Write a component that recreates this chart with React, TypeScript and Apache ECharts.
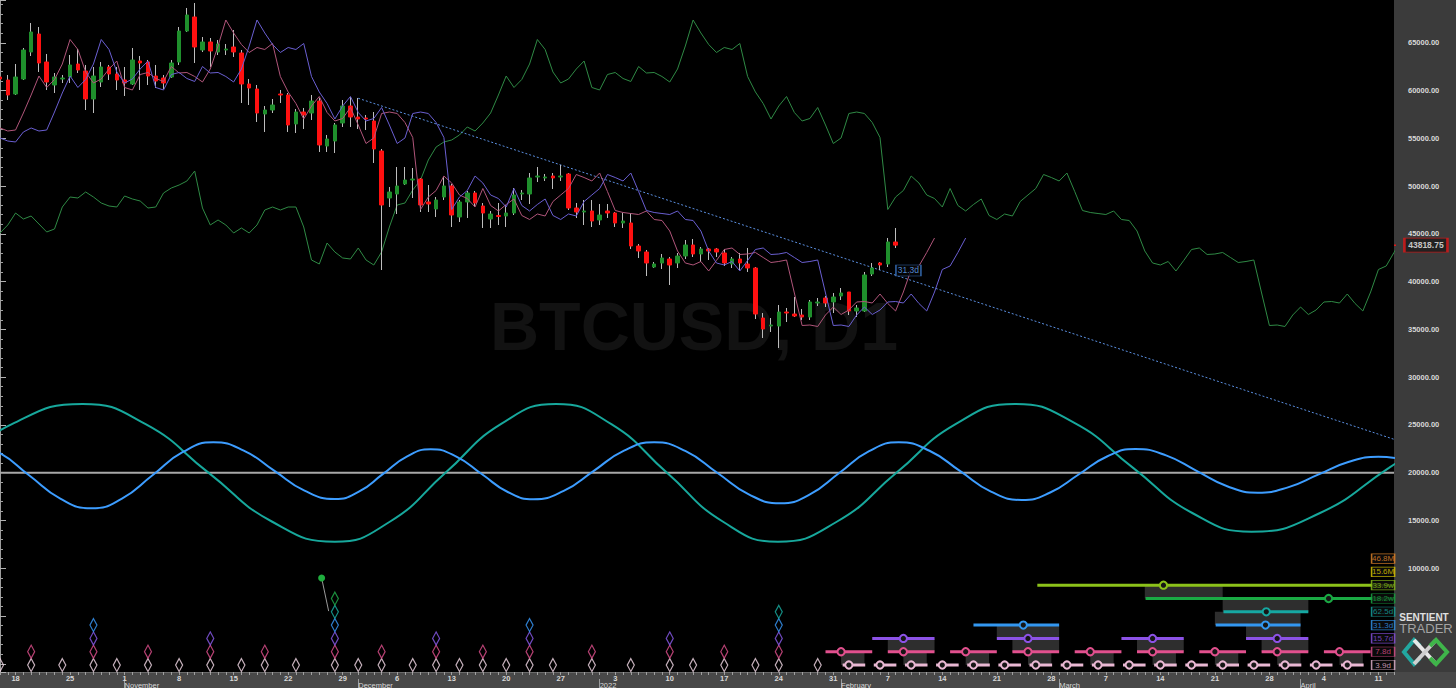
import React, { useEffect, useRef } from "react";
import * as echarts from "echarts";

// ---------- calendar / tick labels ----------
const START_YEAR = 2021;
const START_MONTH = 9; // October (0-based)
const START_DAY = 16;
const DAY_COUNT = 180;
const MONTH_NAMES = ["2022", "February", "March", "April", "May", "June", "July", "August", "September", "October", "November", "December"];
const Y_LABEL_MIN = 10000;
const Y_LABEL_MAX = 65000;
const Y_MIN = -861;
const Y_MAX = 69477;

// ---------- daily candles (index 0 = 16 Oct 2021) ----------
const OPEN = [
  61417, 61103, 59638, 61208, 64035, 65918, 62988, 60580, 61208, 61417,
  62778, 62045, 59115, 60894, 62464, 61731, 61103, 60684, 63092, 62988,
  61522, 61312, 61417, 62988, 66232, 67698, 64244, 65081, 64035, 64244,
  64557, 63930, 60684, 60161, 57544, 57963, 59638, 59534, 56498, 57754,
  57649, 58905, 54195, 54718, 56603, 58382, 57230, 57126, 56812, 53672,
  48752, 49171, 50218, 50636, 50741, 48334, 47601, 48857, 50009, 46764,
  48334, 49276, 47915, 46555, 46920, 46868, 47182, 49171, 49171, 50950,
  50846, 51055, 50950, 51264, 47706, 47287, 47392, 46450, 47392, 47182,
  46136, 46136, 43728, 43101, 41530, 41949, 42368, 41949, 42682, 43833,
  42891, 43415, 43415, 42996, 41844, 42368, 41844, 41425, 36192, 35354,
  35354, 36820, 36610, 36506, 36296, 37762, 38285, 37867, 38495, 38913,
  36925, 36925, 40798, 41949, 41844, 44147,
];
const HIGH = [
  62464, 61627, 62778, 64453, 67070, 66651, 63825, 61836, 61627, 63721,
  64348, 62674, 62464, 62988, 62674, 62464, 62464, 64453, 63616, 63197,
  62674, 61627, 63197, 66651, 68640, 69163, 65604, 65499, 65290, 64871,
  66337, 64244, 61208, 60580, 58382, 59115, 60057, 59743, 58068, 58173,
  59534, 59220, 55347, 56603, 59010, 59324, 59220, 57440, 57754, 53882,
  49904, 51997, 51997, 51892, 50846, 50113, 48857, 50950, 50218, 48543,
  49485, 49485, 48229, 47392, 48229, 48020, 49799, 49590, 51369, 51997,
  51264, 51369, 52206, 51369, 48229, 48543, 48543, 48124, 48124, 47287,
  47182, 47182, 43938, 43310, 42054, 42891, 42577, 42996, 44356, 44461,
  43624, 43519, 43519, 43415, 42577, 42996, 43519, 41530, 36715, 36192,
  37553, 37239, 38390, 37134, 38076, 38285, 38495, 38809, 39332, 38913,
  37553, 41007, 41949, 42054, 44566, 45613,
];
const LOW = [
  60580, 59010, 59534, 61103, 63616, 61941, 60057, 59743, 60789, 60789,
  61836, 57963, 57649, 60370, 61103, 60057, 59429, 60580, 60057, 60580,
  60266, 60161, 61312, 62674, 66128, 62883, 64035, 62464, 63721, 63721,
  63511, 58696, 58487, 56708, 55661, 57649, 58696, 55661, 55556, 55975,
  56917, 53568, 53568, 53463, 56184, 56184, 55975, 55870, 52416, 41216,
  47810, 47077, 50113, 48752, 47287, 47287, 46764, 48543, 45717, 46241,
  46659, 47810, 45613, 45613, 45926, 45717, 46973, 48543, 48124, 50427,
  50532, 49695, 50532, 47496, 46659, 45926, 45717, 45926, 46659, 45717,
  45613, 43415, 42472, 40588, 41425, 41321, 39646, 41425, 42368, 42577,
  42054, 42263, 42577, 41635, 41425, 41216, 41007, 36087, 34099, 34726,
  33052, 35773, 36296, 35983, 35983, 37448, 37343, 36715, 38076, 36506,
  36296, 36820, 40588, 41216, 41530, 43519,
];
const CLOSE = [
  61208, 59534, 61417, 64244, 66128, 62883, 60894, 61417, 61312, 62674,
  62150, 59115, 61522, 62464, 61731, 61103, 60789, 63197, 62883, 61522,
  60998, 60789, 62883, 66232, 67907, 64557, 65081, 64139, 64871, 64348,
  64035, 60684, 60266, 57649, 57963, 58487, 59534, 56394, 57754, 57440,
  58905, 54300, 54928, 56394, 58382, 57230, 57021, 57021, 53882, 48020,
  49381, 50009, 50636, 50741, 48020, 48124, 48543, 50009, 46973, 48334,
  49276, 48229, 47182, 47077, 46815, 47182, 49067, 49276, 50846, 51055,
  50950, 50846, 51055, 47706, 47287, 47392, 46345, 46973, 47182, 46136,
  46345, 43728, 43205, 41949, 41844, 42472, 41739, 42682, 43833, 42891,
  43415, 43205, 43101, 41949, 42368, 41949, 41425, 36610, 35041, 35459,
  36820, 36715, 36401, 36296, 37867, 37867, 37762, 38390, 38809, 36925,
  37239, 40693, 41425, 41739, 44147, 43818.75,
];
const LAST_PRICE = 43818.75;

// ---------- displaced lines (FLDs) ----------
const FLD_VALUES = [
  61522, 60319, 61156, 62778, 65343, 64296, 61941, 60790, 61208, 62255,
  63092, 60319, 60057, 61679, 61889, 61261, 60947, 62517, 61837, 61889,
  61470, 60894, 62255, 64663, 67384, 66023, 64820, 63982, 64506, 64296,
  64924, 61470, 59848, 58644, 57022, 58382, 59377, 57702, 56812, 57074,
  58226, 56394, 54458, 55033, 57597, 57754, 57598, 56655, 55085, 47549,
  48857, 49537, 51055, 50322, 49067, 48700, 47811, 49747, 47968, 47392,
  48072, 48648, 46921, 46503, 47078, 46869, 48386, 49067, 49747, 51212,
  50898, 50532, 51369, 49433, 47444, 47235, 47130, 47025, 47392, 46502,
  46398, 45299, 43205, 41949, 41740, 42106, 41112, 42211, 43362, 43519,
  42839, 42891, 43048, 42525, 42001, 42106, 42263, 38809, 35407, 35459,
  35303, 36506, 37343, 36559, 37030, 37867, 37919, 37762, 38704, 37710,
  36925, 38914, 41269, 41635, 43048, 44566,
];
const PINK_LEAD = [56080, 55765, 55870, 57649, 59534];
const PURPLE_LEAD = [55033, 54718, 54614, 55661, 56080, 55765, 55870, 57754, 59743];
const GREEN_LEAD = [
  45089, 45927, 47182, 46554, 46868, 46031, 45194, 45508, 47810, 48857,
  48752, 49381, 48857, 48229, 47915, 47810, 48962, 48648, 48438, 47706,
  47810, 49276, 49799, 50113, 50531, 51578, 47706, 45927, 46450, 45927,
  45089, 45613, 45089, 45927, 47496, 47810, 47496, 47810, 47810, 45717,
  42263, 41844, 44042, 43101, 42473, 42368, 43519, 42263, 41739, 43101,
  45717, 48020, 48229, 49590, 50636, 52730, 54090, 54614, 54823, 55347,
  56184, 55765, 56603, 57649, 59534,
];

// ---------- trend line ----------
const TREND_DAYS = [46, 179];
const TREND_VALUES = [59190, 23497];

// ---------- cycle waves ----------
const WAVE_CENTER = 20000;
const TEAL_DAYS = [-25.7, -16.6, -7.55, 1.53, 10.6, 18.7, 26.8, 34.9, 43.0, 50.1, 57.2, 64.3, 71.4, 78.5, 85.65, 92.8, 99.9, 107.5, 115.1, 122.7, 130.3, 137.9, 145.5, 153.1, 160.7, 169.5, 178.35, 187.2];
const TEAL_VALUES = [12778, 14892, 19984, 25076, 27191, 25076, 19984, 14892, 12778, 14892, 19984, 25076, 27191, 25076, 19984, 14892, 12778, 14892, 19984, 25076, 27191, 25234, 20508, 15782, 13825, 15782, 20508, 25234];
const BLUE_DAYS = [-4.3, -0.29, 3.73, 7.74, 11.75, 15.66, 19.58, 23.49, 27.4, 31.3, 35.2, 39.1, 43.0, 46.08, 49.15, 52.23, 55.3, 58.6, 61.9, 65.2, 68.5, 72.38, 76.25, 80.13, 84.0, 88.05, 92.1, 96.15, 100.2, 104.0, 107.8, 111.6, 115.4, 119.35, 123.3, 127.25, 131.2, 134.85, 138.5, 142.15, 145.8, 149.73, 153.65, 157.58, 161.5, 165.38, 169.25, 173.13, 177.0, 181.0];
const BLUE_VALUES = [23182, 22167, 19728, 17289, 16274, 17289, 19728, 22167, 23182, 22313, 20215, 18116, 17247, 18011, 19848, 21685, 22449, 21685, 19833, 17980, 17216, 18090, 20199, 22308, 23182, 22250, 19990, 17729, 16797, 17729, 19990, 22250, 23182, 22297, 20162, 18027, 17143, 17928, 19812, 21696, 22481, 21811, 20194, 18577, 17907, 18461, 19791, 21120, 21675, 21214];

// ---------- cycle rows (levels on the price scale) ----------
const ROW_LEVELS = [-130, 1260, 2655, 4050, 5440, 6830, 8225, 9615, 11010];
const ROW_NAMES = ["3.9d", "7.8d", "15.7d", "31.3d", "62.5d", "18.2w", "33.9w", "15.6M", "46.8M"];
const ROW_COLORS = ["#e9b8d3", "#e2508e", "#8c52e6", "#3397f0", "#16a8a2", "#1aaa44", "#8cc21a", "#e4d000", "#e88a2a"];
const DIAMOND_COLORS = ["#f5dbe9", "#e2508e", "#8c5cf0", "#3a9cff", "#19b2a5", "#22b04c"];

// past troughs (day indices) per row
const TROUGHS_3_9 = [0, 4, 8, 12, 15, 19, 23, 27, 31, 34, 38, 43, 46, 49, 53, 56, 59, 62, 65, 68, 71, 76, 81, 86, 89, 93, 97, 100, 105];
const TROUGHS_7_8 = [4, 12, 19, 27, 34, 43, 49, 56, 62, 68, 76, 86, 93, 100];
const TROUGHS_15_7 = [12, 27, 43, 56, 68, 86, 100];
const TROUGHS_31_3 = [12, 43, 68, 100];
const TROUGHS_62_5 = [43, 100];
const TROUGHS_18_2W = [43];
const TROUGH_ROWS = [TROUGHS_3_9, TROUGHS_7_8, TROUGHS_15_7, TROUGHS_31_3, TROUGHS_62_5, TROUGHS_18_2W];

// projected troughs: [from, expected, to] in day indices
const PROJ_3_9 = [[108.2, 109, 111.1], [112.2, 113, 115.1], [116.2, 117, 119.1], [120.2, 121, 123.1], [124.2, 125, 127.1], [128.2, 129, 131.1], [132.2, 133, 135.1], [136.2, 137, 139.1], [140.2, 141, 143.1], [144.2, 145, 147.1], [148.2, 149, 151.1], [152.2, 153, 155.1], [156.2, 157, 159.1], [160.2, 161, 163.1], [164.2, 165, 167.1], [168.2, 169, 171.1], [172.2, 173, 175.1]];
const PROJ_7_8 = [[106, 108, 112], [114, 116, 120], [122, 124, 128], [130, 132, 136], [138, 140, 144], [146, 148, 152], [154, 156, 160], [162, 164, 168], [170, 172, 176]];
const PROJ_15_7 = [[112, 116, 120], [128, 132, 136], [144, 148, 152], [160, 164, 168]];
const PROJ_31_3 = [[125, 131.4, 136], [156.1, 162.5, 167]];
const PROJ_62_5 = [[157.1, 162.6, 168]];
const PROJ_18_2W = [[147.1, 170.6, 179]];
const PROJ_33_9W = [[133.2, 149.4, 179]];
const PROJ_ROWS = [PROJ_3_9, PROJ_7_8, PROJ_15_7, PROJ_31_3, PROJ_62_5, PROJ_18_2W, PROJ_33_9W];

// shaded zones: [from, to, row below]
const ZONES = [
  [108, 111, 0], [116, 119, 0], [124, 127, 0], [132, 135, 0], [140, 143, 0], [148, 151, 0], [156, 159, 0], [164, 167, 0], [172, 175, 0],
  [114, 120, 1], [130, 136, 1], [146, 152, 1], [162, 168, 1],
  [128, 136, 2], [160, 167, 2],
  [156, 167, 3],
  [157, 168, 4],
  [147, 157, 5],
];

// markers
const MARKER_DAYS = [41.3, 42.2];
const MARKER_VALUES = [8978, 5513];
const FLD_LABEL_DAY = 116.65;
const FLD_LABEL_VALUE = 41164;
const FLD_LABEL_TEXT = "31.3d";
const LEGEND_DAY = 177.6;
const PRICE_TAG_DAY = 183.1;

const W = 1456;
const H = 688;
const FONT = '"Liberation Sans", Arial, sans-serif';

function buildDates(): string[] {
  const out: string[] = [];
  for (let i = 0; i < DAY_COUNT; i++) {
    const d = new Date(Date.UTC(START_YEAR, START_MONTH, START_DAY + i));
    out.push(d.toISOString().slice(0, 10));
  }
  return out;
}

export default function App() {
  const ref = useRef<HTMLDivElement>(null);

  useEffect(() => {
    if (!ref.current) return;
    const chart = echarts.init(ref.current, null, { renderer: "svg" });
    const dates = buildDates();
    const lastIdx = DAY_COUNT - 1;

    const wickData = OPEN.map((o, i) => [i, o, CLOSE[i], LOW[i], HIGH[i]]);
    const bodyData = OPEN.map((o, i) => [i, o, CLOSE[i], Math.min(o, CLOSE[i]), Math.max(o, CLOSE[i])]);

    const pinkData = [
      ...PINK_LEAD.map((v, i) => [i, v]),
      ...FLD_VALUES.map((v, i) => [i + PINK_LEAD.length, v]),
    ];
    const purpleData = [
      ...PURPLE_LEAD.map((v, i) => [i, v]),
      ...FLD_VALUES.map((v, i) => [i + PURPLE_LEAD.length, v]),
    ];
    const greenData = [
      ...GREEN_LEAD.map((v, i) => [i, v]),
      ...FLD_VALUES.map((v, i) => [i + GREEN_LEAD.length, v]),
    ];

    const series: any[] = [];

    // zones
    series.push({
      type: "custom",
      xAxisIndex: 0,
      yAxisIndex: 0,
      z: 1,
      silent: true,
      data: ZONES.map(([a, b, r]) => [a, b, ROW_LEVELS[r], ROW_LEVELS[r + 1]]),
      encode: { x: [0, 1], y: [2, 3] },
      renderItem: (_p: any, api: any) => {
        const p0 = api.coord([api.value(0), api.value(3)]);
        const p1 = api.coord([api.value(1), api.value(2)]);
        return {
          type: "rect",
          shape: { x: p0[0], y: p0[1], width: p1[0] - p0[0], height: p1[1] - p0[1] },
          style: { fill: "#2e2e2e" },
        };
      },
    });

    // green FLD
    series.push({
      type: "line",
      data: greenData,
      symbol: "none",
      lineStyle: { color: "#2f8a45", width: 1 },
      z: 2,
      silent: true,
    });

    // trend line
    series.push({
      type: "line",
      data: TREND_DAYS.map((d, i) => [d, TREND_VALUES[i]]),
      symbol: "none",
      lineStyle: { color: "#5b8fe0", width: 1, type: [2, 2] },
      z: 2,
      silent: true,
    });

    // wave zero line
    series.push({
      type: "line",
      data: [[0, WAVE_CENTER], [lastIdx, WAVE_CENTER]],
      symbol: "none",
      lineStyle: { color: "#a8a8a8", width: 2 },
      z: 2,
      silent: true,
    });
    series.push({
      type: "line",
      data: TEAL_DAYS.map((d, i) => [d, TEAL_VALUES[i]]),
      symbol: "none",
      smooth: 0.5,
      lineStyle: { color: "#17a89c", width: 2 },
      z: 3,
      silent: true,
    });
    series.push({
      type: "line",
      data: BLUE_DAYS.map((d, i) => [d, BLUE_VALUES[i]]),
      symbol: "none",
      smooth: 0.5,
      lineStyle: { color: "#3d9dff", width: 2 },
      z: 3,
      silent: true,
    });

    // candles: wicks, then bodies
    series.push({
      type: "candlestick",
      data: wickData,
      encode: { x: 0, y: [1, 2, 3, 4] },
      barWidth: 1,
      itemStyle: { color: "#bdbdbd", color0: "#bdbdbd", borderColor: "#bdbdbd", borderColor0: "#bdbdbd", borderWidth: 1 },
      z: 3,
      silent: true,
    });
    series.push({
      type: "candlestick",
      data: bodyData,
      encode: { x: 0, y: [1, 2, 3, 4] },
      barWidth: 4,
      itemStyle: { color: "#1f8f2c", color0: "#ff1010", borderColor: "#1f8f2c", borderColor0: "#ff1010", borderWidth: 1 },
      z: 4,
      silent: true,
    });

    // pink / purple FLDs
    series.push({
      type: "line",
      data: pinkData,
      symbol: "none",
      lineStyle: { color: "#b0557a", width: 1 },
      z: 5,
      silent: true,
    });
    series.push({
      type: "line",
      data: purpleData,
      symbol: "none",
      lineStyle: { color: "#6a5fd2", width: 1 },
      z: 5,
      silent: true,
    });

    // FLD label
    series.push({
      type: "scatter",
      data: [[FLD_LABEL_DAY, FLD_LABEL_VALUE]],
      symbol: "rect",
      symbolSize: [25, 11],
      itemStyle: { color: "#050505", borderColor: "#3f7fd4", borderWidth: 1 },
      label: { show: true, position: "inside", formatter: FLD_LABEL_TEXT, color: "#63a9ff", fontSize: 8.5, fontFamily: FONT },
      z: 6,
      silent: true,
      clip: false,
    });

    // trough diamonds
    TROUGH_ROWS.forEach((days, r) => {
      series.push({
        type: "scatter",
        data: days.map((d) => [d, ROW_LEVELS[r]]),
        symbol: "diamond",
        symbolSize: [7, 13],
        itemStyle: { color: "rgba(0,0,0,0)", borderColor: DIAMOND_COLORS[r], borderWidth: 1.3 },
        z: 4,
        silent: true,
      });
    });

    // marker dot
    series.push({
      type: "line",
      data: [
        { value: [MARKER_DAYS[0], MARKER_VALUES[0]], symbolSize: 7 },
        { value: [MARKER_DAYS[1], MARKER_VALUES[1]], symbolSize: 0 },
      ],
      symbol: "circle",
      showSymbol: true,
      itemStyle: { color: "#1fae3e" },
      lineStyle: { color: "#9a9a9a", width: 1 },
      z: 5,
      silent: true,
    });

    // projections
    PROJ_ROWS.forEach((items, r) => {
      const col = ROW_COLORS[r];
      series.push({
        type: "custom",
        xAxisIndex: 0,
        yAxisIndex: 0,
        z: 5,
        silent: true,
        data: items.map(([a, c, b]) => [a, c, b, ROW_LEVELS[r]]),
        encode: { x: [0, 2], y: 3 },
        renderItem: (_p: any, api: any) => {
          const lvl = api.value(3);
          const pa = api.coord([api.value(0), lvl]);
          const pb = api.coord([api.value(2), lvl]);
          const pc = api.coord([api.value(1), lvl]);
          return {
            type: "group",
            children: [
              { type: "line", shape: { x1: pa[0], y1: pa[1], x2: pb[0], y2: pb[1] }, style: { stroke: col, lineWidth: 3 } },
              { type: "circle", shape: { cx: pc[0], cy: pc[1], r: 3.6 }, style: { fill: "#161616", stroke: col, lineWidth: 2 } },
            ],
          };
        },
      });
    });

    // cycle legend boxes
    series.push({
      type: "scatter",
      data: ROW_NAMES.map((name, r) => ({
        value: [LEGEND_DAY, ROW_LEVELS[r]],
        itemStyle: { borderColor: ROW_COLORS[r] },
        label: { color: ROW_COLORS[r], formatter: name },
      })),
      symbol: "rect",
      symbolSize: [23, 9.5],
      itemStyle: { color: "#0c0c0c", borderWidth: 1 },
      label: { show: true, position: "inside", fontSize: 8, fontFamily: FONT },
      z: 8,
      silent: true,
      clip: false,
    });

    // last price tag
    series.push({
      type: "line",
      data: [[lastIdx, LAST_PRICE], [lastIdx + 1.3, LAST_PRICE]],
      symbol: "none",
      lineStyle: { color: "#e01818", width: 1.5 },
      z: 8,
      silent: true,
      clip: false,
    });
    series.push({
      type: "scatter",
      data: [[PRICE_TAG_DAY, LAST_PRICE]],
      symbol: "rect",
      symbolSize: [43, 14],
      itemStyle: { color: "#1c1c1c", borderColor: "#e01818", borderWidth: 1.5 },
      label: {
        show: true,
        position: "inside",
        formatter: LAST_PRICE.toFixed(2),
        color: "#f2f2f2",
        fontSize: 8.5,
        fontWeight: "bold",
        fontFamily: FONT,
      },
      z: 8,
      silent: true,
      clip: false,
    });

    const option: any = {
      animation: false,
      backgroundColor: "#000000",
      textStyle: { fontFamily: FONT },
      grid: { left: 0, right: 62, top: 0, bottom: 16, containLabel: false, outerBoundsMode: "none" },
      xAxis: [
        { type: "value", min: 0, max: lastIdx, show: false },
        {
          type: "category",
          data: dates,
          boundaryGap: false,
          position: "bottom",
          axisLine: { show: true, lineStyle: { color: "#6a6a6a", width: 1 } },
          axisTick: { show: true, interval: 0, length: 3, lineStyle: { color: "#a0a0a0" } },
          axisLabel: {
            interval: (_i: number, v: string) => new Date(v + "T00:00:00Z").getUTCDay() === 1,
            formatter: (v: string) => String(parseInt(v.slice(8), 10)),
            color: "#d8d8d8",
            fontSize: 7.5,
            fontWeight: "bold",
            margin: 2,
          },
          splitLine: { show: false },
        },
        {
          type: "category",
          data: dates,
          boundaryGap: false,
          position: "bottom",
          offset: 7,
          axisLine: { show: false },
          axisTick: {
            show: true,
            interval: (_i: number, v: string) => v.slice(8) === "01",
            length: 9,
            lineStyle: { color: "#9a9a9a" },
          },
          axisLabel: {
            interval: (_i: number, v: string) => v.slice(8) === "01",
            formatter: (v: string) => MONTH_NAMES[parseInt(v.slice(5, 7), 10) - 1],
            color: "#d8d8d8",
            fontSize: 7.5,
            align: "left",
            margin: 2,
          },
          splitLine: { show: false },
        },
      ],
      yAxis: {
        type: "value",
        position: "right",
        min: Y_MIN,
        max: Y_MAX,
        splitNumber: 14,
        axisLine: { show: true, lineStyle: { color: "#9c9c9c" } },
        axisTick: { show: true, length: 6, lineStyle: { color: "#b0b0b0" } },
        minorTick: { show: true, splitNumber: 5, length: 3, lineStyle: { color: "#a0a0a0" } },
        splitLine: { show: false },
        axisLabel: {
          margin: 14,
          color: "#d8d8d8",
          fontSize: 7.5,
          fontWeight: "bold",
          showMinLabel: false,
          showMaxLabel: false,
          formatter: (v: number) => (v >= Y_LABEL_MIN && v <= Y_LABEL_MAX ? v.toFixed(2) : ""),
        },
      },
      series,
      graphic: {
        elements: [
          { type: "rect", shape: { x: 1394, y: 0, width: 62, height: H }, style: { fill: "#3b3b3b" }, z: -2, silent: true },
          { type: "rect", shape: { x: 0, y: 672, width: W, height: 16 }, style: { fill: "#484848" }, z: -2, silent: true },
          {
            type: "text",
            x: 694,
            y: 326,
            style: { text: "BTCUSD, D1", fill: "#121212", fontSize: 68, fontWeight: "bold", fontFamily: FONT, align: "center", verticalAlign: "middle" },
            z: -1,
            silent: true,
          },
          {
            type: "text",
            x: 1424,
            y: 617,
            style: { text: "SENTIENT", fill: "#e0e0e0", fontSize: 10, fontWeight: "bold", fontFamily: FONT, align: "center", verticalAlign: "middle" },
            z: 9,
            silent: true,
          },
          {
            type: "text",
            x: 1426,
            y: 628.5,
            style: { text: "TRADER", fill: "#a4a4a4", fontSize: 13, fontWeight: "normal", fontFamily: FONT, align: "center", verticalAlign: "middle" },
            z: 9,
            silent: true,
          },
          { type: "polyline", shape: { points: [[1420, 646], [1414, 640], [1404, 652], [1414, 664], [1420, 658]] }, style: { stroke: "#22a7a0", lineWidth: 4, fill: "none" }, z: 9, silent: true },
          { type: "polyline", shape: { points: [[1414, 640], [1436, 664]] }, style: { stroke: "#e8e8e8", lineWidth: 4, fill: "none" }, z: 9, silent: true },
          { type: "polyline", shape: { points: [[1414, 664], [1436, 640]] }, style: { stroke: "#cfcfcf", lineWidth: 4, fill: "none" }, z: 9, silent: true },
          { type: "polyline", shape: { points: [[1430, 646], [1436, 640], [1447, 652], [1436, 664], [1430, 658]] }, style: { stroke: "#3fb54a", lineWidth: 4, fill: "none" }, z: 9, silent: true },
        ],
      },
    };

    chart.setOption(option);
    return () => chart.dispose();
  }, []);

  return (
    <div
      ref={ref}
      style={{ position: "fixed", left: 0, top: 0, width: W, height: H, background: "#000" }}
    />
  );
}
